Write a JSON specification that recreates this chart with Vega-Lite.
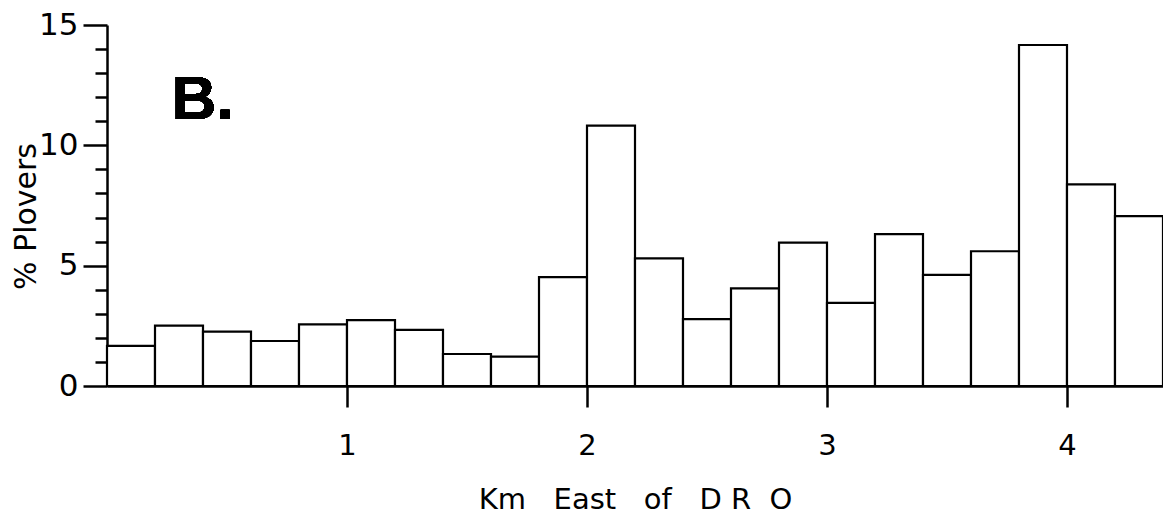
{
  "$schema": "https://vega.github.io/schema/vega-lite/v6.json",
  "width": 1056,
  "height": 361,
  "autosize": {"type": "none"},
  "padding": {"left": 107, "top": 25, "right": 0, "bottom": 132},
  "background": "white",
  "config": {"view": {"stroke": null}},
  "data": {
    "values": [
      {"km_start": 0.0, "km_end": 0.2, "pct": 1.67},
      {"km_start": 0.2, "km_end": 0.4, "pct": 2.51},
      {"km_start": 0.4, "km_end": 0.6, "pct": 2.26},
      {"km_start": 0.6, "km_end": 0.8, "pct": 1.87},
      {"km_start": 0.8, "km_end": 1.0, "pct": 2.56},
      {"km_start": 1.0, "km_end": 1.2, "pct": 2.74},
      {"km_start": 1.2, "km_end": 1.4, "pct": 2.33},
      {"km_start": 1.4, "km_end": 1.6, "pct": 1.33},
      {"km_start": 1.6, "km_end": 1.8, "pct": 1.22},
      {"km_start": 1.8, "km_end": 2.0, "pct": 4.52},
      {"km_start": 2.0, "km_end": 2.2, "pct": 10.82},
      {"km_start": 2.2, "km_end": 2.4, "pct": 5.3},
      {"km_start": 2.4, "km_end": 2.6, "pct": 2.78},
      {"km_start": 2.6, "km_end": 2.8, "pct": 4.06},
      {"km_start": 2.8, "km_end": 3.0, "pct": 5.96},
      {"km_start": 3.0, "km_end": 3.2, "pct": 3.45},
      {"km_start": 3.2, "km_end": 3.4, "pct": 6.31},
      {"km_start": 3.4, "km_end": 3.6, "pct": 4.62},
      {"km_start": 3.6, "km_end": 3.8, "pct": 5.6},
      {"km_start": 3.8, "km_end": 4.0, "pct": 14.17},
      {"km_start": 4.0, "km_end": 4.2, "pct": 8.38},
      {"km_start": 4.2, "km_end": 4.4, "pct": 7.06}
    ]
  },
  "layer": [
    {
      "mark": {"type": "bar", "fill": "white", "stroke": "black", "strokeWidth": 2.2, "orient": "vertical"},
      "encoding": {
        "x": {
          "field": "km_start",
          "type": "quantitative",
          "scale": {"domain": [0, 4.4], "nice": false, "zero": false, "padding": 0},
          "axis": {
            "values": [1, 2, 3, 4],
            "format": "d",
            "grid": false,
            "domainColor": "black",
            "domainWidth": 2.5,
            "tickColor": "black",
            "tickWidth": 2.5,
            "tickSize": 21,
            "labelFont": "DejaVu Sans",
            "labelFontSize": 29,
            "labelColor": "black",
            "labelPadding": 24,
            "title": "Km\u00a0\u00a0\u00a0East\u00a0\u00a0\u00a0of\u00a0\u00a0\u00a0D\u00a0R\u00a0\u00a0O",
            "titleFont": "DejaVu Sans",
            "titleFontSize": 29,
            "titleFontWeight": "normal",
            "titleColor": "black",
            "titleY": 122,
            "titleBaseline": "alphabetic"
          }
        },
        "x2": {"field": "km_end"},
        "y": {
          "field": "pct",
          "type": "quantitative",
          "scale": {"domain": [0, 15], "nice": false, "padding": 0},
          "axis": {
            "values": [0, 1, 2, 3, 4, 5, 6, 7, 8, 9, 10, 11, 12, 13, 14, 15],
            "tickCount": 30,
            "format": "d",
            "labelExpr": "datum.value % 5 === 0 ? datum.label : ''",
            "grid": false,
            "domainColor": "black",
            "domainWidth": 2.5,
            "tickColor": "black",
            "tickWidth": 2.5,
            "tickSize": {"condition": {"test": "datum.value % 5 === 0", "value": 24}, "value": 12},
            "labelFont": "DejaVu Sans",
            "labelFontSize": 31,
            "labelColor": "black",
            "labelPadding": 5,
            "labelFlush": false,
            "labelOverlap": false,
            "title": "%\u00a0Plovers",
            "titleFont": "DejaVu Sans",
            "titleFontSize": 30,
            "titleFontWeight": "normal",
            "titleColor": "black",
            "titleX": -72,
            "titleY": 191,
            "titleAngle": -90,
            "titleBaseline": "alphabetic",
            "titleAlign": "center"
          }
        },
        "y2": {"datum": 0}
      }
    },
    {
      "mark": {"type": "text", "text": "B.", "font": "Liberation Sans Narrow, Liberation Sans", "fontWeight": "bold", "fontSize": 62, "align": "left", "baseline": "alphabetic", "color": "black"},
      "encoding": {
        "x": {"datum": 0.27, "type": "quantitative"},
        "y": {"datum": 11.1, "type": "quantitative"}
      }
    }
  ]
}
